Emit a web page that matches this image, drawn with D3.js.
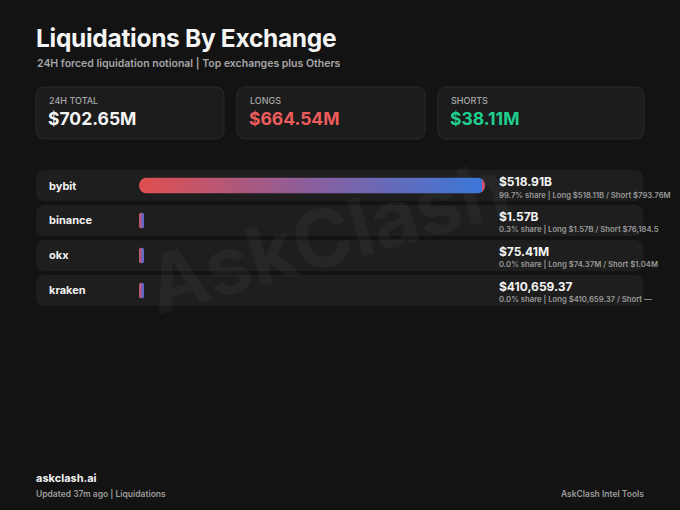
<!DOCTYPE html>
<html>
<head>
<meta charset="utf-8">
<script src="https://cdn.jsdelivr.net/npm/d3@7"></script>
<style>
  html, body { margin: 0; padding: 0; background: #121212; }
  svg { display: block; font-family: Inter, "Noto Sans", sans-serif; }
</style>
</head>
<body>
<div id="graph-container"></div>
<script>
// values
const exchanges = ["bybit", "binance", "okx", "kraken"]
const totals = [518.91e9, 1.57e9, 75.41e6, 410659.37]
const longs = [518.11e9, 1.57e9, 74.37e6, 410659.37]
const shorts = [793.76e6, 76184.5, 1.04e6, null]
const shares = [99.7, 0.3, 0.0, 0.0]
const totalLabels = ["$518.91B", "$1.57B", "$75.41M", "$410,659.37"]
const longLabels = ["$518.11B", "$1.57B", "$74.37M", "$410,659.37"]
const shortLabels = ["$793.76M", "$76,184.5", "$1.04M", "\u2014"]

const cardLabels = ["24H TOTAL", "LONGS", "SHORTS"]
const cardValues = ["$702.65M", "$664.54M", "$38.11M"]
const cardColors = ["#f4f4f4", "#ef5c5c", "#1fcf8f"]

const width = 680
const height = 510

const svg = d3.select("#graph-container")
  .append("svg")
  .attr("id", "graph")
  .attr("width", width)
  .attr("height", height)

svg.append("rect").attr("width", width).attr("height", height).attr("fill", "#131313")

const defs = svg.append("defs")
const grad = defs.append("linearGradient").attr("id", "barGrad")
  .attr("x1", "0%").attr("x2", "100%")
grad.append("stop").attr("offset", "0%").attr("stop-color", "#e04f4f")
grad.append("stop").attr("offset", "50%").attr("stop-color", "#8a5f9e")
grad.append("stop").attr("offset", "100%").attr("stop-color", "#3a78da")

// tiny bars: red half, blue half
const gradSmall = defs.append("linearGradient").attr("id", "barGradSmall")
  .attr("x1", "0%").attr("x2", "100%")
gradSmall.append("stop").attr("offset", "0%").attr("stop-color", "#c9566a")
gradSmall.append("stop").attr("offset", "45%").attr("stop-color", "#a65a86")
gradSmall.append("stop").attr("offset", "60%").attr("stop-color", "#6a64c0")
gradSmall.append("stop").attr("offset", "100%").attr("stop-color", "#5a6ad0")

// header
svg.append("text")
  .attr("x", 36).attr("y", 47)
  .attr("fill", "#f5f5f5")
  .style("font-size", "24.5px").style("font-weight", 700)
  .style("letter-spacing", "-0.3px")
  .text("Liquidations By Exchange")

svg.append("text")
  .attr("x", 37).attr("y", 67)
  .attr("fill", "#a6a6a6")
  .style("font-size", "10.5px").style("font-weight", 600)
  .text("24H forced liquidation notional | Top exchanges plus Others")

// stat cards
const cardX = d3.scaleOrdinal().domain(cardLabels).range([36, 237, 438])
const cardW = [188, 188, 206]
const cards = svg.selectAll(".card")
  .data(cardLabels)
  .enter()
  .append("g")
  .attr("class", "card")
  .attr("transform", d => `translate(${cardX(d)}, 87)`)

cards.append("rect")
  .attr("width", (d, i) => cardW[i]).attr("height", 52)
  .attr("rx", 8)
  .attr("fill", "#1c1c1c")
  .attr("stroke", "#2a2a2a")

cards.append("text")
  .attr("x", 13).attr("y", 17)
  .attr("fill", "#a8a8a8")
  .style("font-size", "9px").style("font-weight", 500)
  .text(d => d)

cards.append("text")
  .attr("x", 12).attr("y", 38)
  .attr("fill", (d, i) => cardColors[i])
  .style("font-size", "17.5px").style("font-weight", 700)
  .text((d, i) => cardValues[i])

// rows
const y = d3.scaleBand()
  .domain(exchanges)
  .range([170, 306])
  .paddingInner(0.114)
  .paddingOuter(0)

const x = d3.scaleLinear()
  .domain([0, d3.max(totals)])
  .range([0, 346])

const barX = 139
const barH = 16
const minW = 5

const rows = svg.selectAll(".row")
  .data(exchanges)
  .enter()
  .append("g")
  .attr("class", "row")
  .attr("transform", d => `translate(36, ${y(d)})`)

rows.append("rect")
  .attr("width", 607).attr("height", y.bandwidth())
  .attr("rx", 8)
  .attr("fill", "#1e1e1e")

// watermark sits over the row backgrounds
svg.append("text")
  .attr("transform", "translate(330, 243) rotate(-16)")
  .attr("text-anchor", "middle")
  .attr("dominant-baseline", "middle")
  .attr("fill", "#ffffff")
  .attr("fill-opacity", 0.04)
  .style("font-size", "80px").style("font-weight", 700)
  .text("AskClash")

rows.append("text")
  .attr("x", 13).attr("y", y.bandwidth() / 2 + 4)
  .attr("fill", "#f2f2f2")
  .style("font-size", "11px").style("font-weight", 700)
  .text(d => d)

exchanges.forEach((name, i) => {
  const g = svg.append("g")
  const w = Math.max(minW, x(totals[i]))
  const top = y(name) + (y.bandwidth() - barH) / 2
  const r = w > 20 ? 8 : 2.5
  defs.append("clipPath").attr("id", `clip-${i}`)
    .append("rect")
    .attr("x", barX).attr("y", top)
    .attr("width", w).attr("height", barH)
    .attr("rx", r)
  const body = g.attr("clip-path", `url(#clip-${i})`)
  body.append("rect")
    .attr("x", barX).attr("y", top)
    .attr("width", w).attr("height", barH)
    .attr("fill", w > 20 ? "url(#barGrad)" : "url(#barGradSmall)")
  // short slice at the end of the bar
  if (shorts[i] && w > 20) {
    const sw = Math.max(3, x(shorts[i]))
    body.append("rect")
      .attr("x", barX + w - sw).attr("y", top)
      .attr("width", sw).attr("height", barH)
      .attr("fill", "#d45068")
  }
})

rows.append("text")
  .attr("x", 463).attr("y", 16)
  .attr("fill", "#f4f4f4")
  .style("font-size", "12px").style("font-weight", 700)
  .text((d, i) => totalLabels[i])

rows.append("text")
  .attr("x", 463).attr("y", 27.5)
  .attr("fill", "#9a9a9a")
  .style("font-size", "7.7px").style("font-weight", 600)
  .text((d, i) => `${shares[i].toFixed(1)}% share | Long ${longLabels[i]} / Short ${shortLabels[i]}`)

// footer
svg.append("text")
  .attr("x", 36).attr("y", 482)
  .attr("fill", "#f2f2f2")
  .style("font-size", "11px").style("font-weight", 700)
  .text("askclash.ai")

svg.append("text")
  .attr("x", 36).attr("y", 497)
  .attr("fill", "#9c9c9c")
  .style("font-size", "8.5px").style("font-weight", 600)
  .text("Updated 37m ago | Liquidations")

svg.append("text")
  .attr("x", 644).attr("y", 497)
  .attr("text-anchor", "end")
  .attr("fill", "#9c9c9c")
  .style("font-size", "8.5px").style("font-weight", 600)
  .text("AskClash Intel Tools")
</script>
</body>
</html>
